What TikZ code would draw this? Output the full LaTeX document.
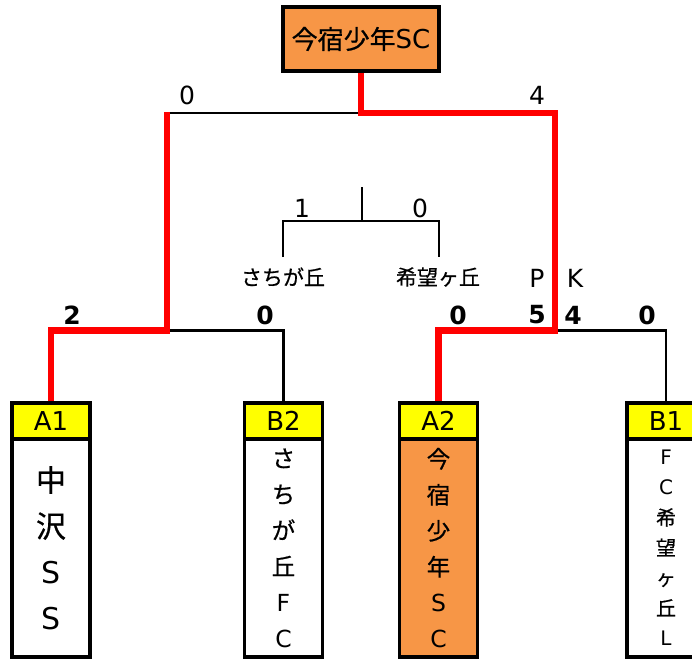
\documentclass[tikz,border=0pt]{standalone}
\usepackage{fontspec}
\setmainfont{DejaVu Sans}
\newfontfamily\jp[FakeBold=0.6]{Noto Sans CJK JP}
\definecolor{boxorange}{HTML}{F79646}
\definecolor{hdryellow}{HTML}{FFFF00}
\begin{document}
\begin{tikzpicture}[x=1pt,y=-1pt,
  bline/.style={line width=2.7pt, black},
  rline/.style={line width=6.5pt, red, line join=miter},
  frame/.style={draw=black, line width=3.2pt, inner sep=0pt},
  lbl/.style={inner sep=0pt, font=\fontsize{25}{25}\selectfont},
  blbl/.style={inner sep=0pt, font=\fontsize{25}{25}\selectfont\bfseries},
  namelbl/.style={inner sep=0pt, font=\fontsize{21}{21}\selectfont\jp},
  hdr/.style={frame, fill=hdryellow, minimum width=78pt, minimum height=36pt, font=\fontsize{26}{26}\selectfont},
  body/.style={frame, fill=white, minimum width=78pt, minimum height=218pt},
  vtext/.style={inner sep=0pt, align=center},
]
\useasboundingbox (0,0) rectangle (692,658);
\clip (0,0) rectangle (692,658);
\fill[white] (0,0) rectangle (692,658);

% boxes
\node[frame, fill=boxorange, minimum width=156pt, minimum height=64pt,
      font=\fontsize{26}{26}\selectfont] (champ) at (361,39) {{\jp 今宿少年}SC};

\node[body] (bA1) at (51,548) {};
\node[hdr] (hA1) at (51,421) {A1};
\node[body] (bB2) at (283.5,548) {};
\node[hdr] (hB2) at (283.5,421) {B2};
\node[body, fill=boxorange] (bA2) at (438.5,548) {};
\node[hdr] (hA2) at (438.5,421) {A2};
\node[body] (bB1) at (666,548) {};
\node[hdr] (hB1) at (666,421) {B1};

\node[vtext, font=\fontsize{30}{46}\selectfont] (tA1) at (bA1.center) {{\jp 中}\\{\jp 沢}\\S\\S};
\node[vtext, font=\fontsize{23.5}{36}\selectfont] (tB2) at (bB2.center) {{\jp さ}\\{\jp ち}\\{\jp が}\\{\jp 丘}\\F\\C};
\node[vtext, font=\fontsize{23.5}{36}\selectfont] (tA2) at (bA2.center) {{\jp 今}\\{\jp 宿}\\{\jp 少}\\{\jp 年}\\S\\C};
\node[vtext, font=\fontsize{20}{30.2}\selectfont] (tB1) at (bB1.center) {F\\C\\{\jp 希}\\{\jp 望}\\{\jp ヶ}\\{\jp 丘}\\L};

% junction coordinates
\coordinate (fL) at (167,113);
\coordinate (fR) at (555,113);
\coordinate (fM) at (361,113);
\coordinate (sL) at (167,330.5);
\coordinate (sR) at (555,330.5);

% black bracket
\draw[bline] (fL) -- (fR);
\draw[bline] (hA1.north) |- (sL) -| (hB2.north);
\draw[bline] (hA2.north) |- (sR) -| (hB1.north);
\draw[bline] (sL) -- (fL);
\draw[bline] (sR) -- (fR);

% small bracket
\coordinate (mTop) at (362,187);
\coordinate (mJ) at (362,221);
\coordinate (mL) at (283,257);
\coordinate (mR) at (439,257);
\node[namelbl] (nS) at (283,277) {さちが丘};
\node[namelbl] (nK) at (438,277) {希望ヶ丘};
\draw[bline] (mTop) -- (mJ);
\draw[bline] (mL) |- (mJ) -| (mR);

% red winning paths
\draw[rline] (hA1.north) |- (sL) -- (167,112);
\draw[rline] (hA2.north) |- (sR) |- (fM) -- (champ.south);

% scores
\node[lbl] (s0) at (187,95) {0};
\node[lbl] (s4) at (537,95) {4};
\node[lbl] (m1) at (302,208) {1};
\node[lbl] (m0) at (420,208) {0};
\node[lbl] (pP) at (537,278) {P};
\node[lbl] (pK) at (575,278) {K};
\node[blbl] (b2) at (72,315) {2};
\node[blbl] (b0a) at (265,315) {0};
\node[blbl] (b0b) at (458,315) {0};
\node[blbl] (b5) at (537,315) {5};
\node[blbl] (b4) at (573,315) {4};
\node[blbl] (b0c) at (647,315) {0};
\end{tikzpicture}
\end{document}
